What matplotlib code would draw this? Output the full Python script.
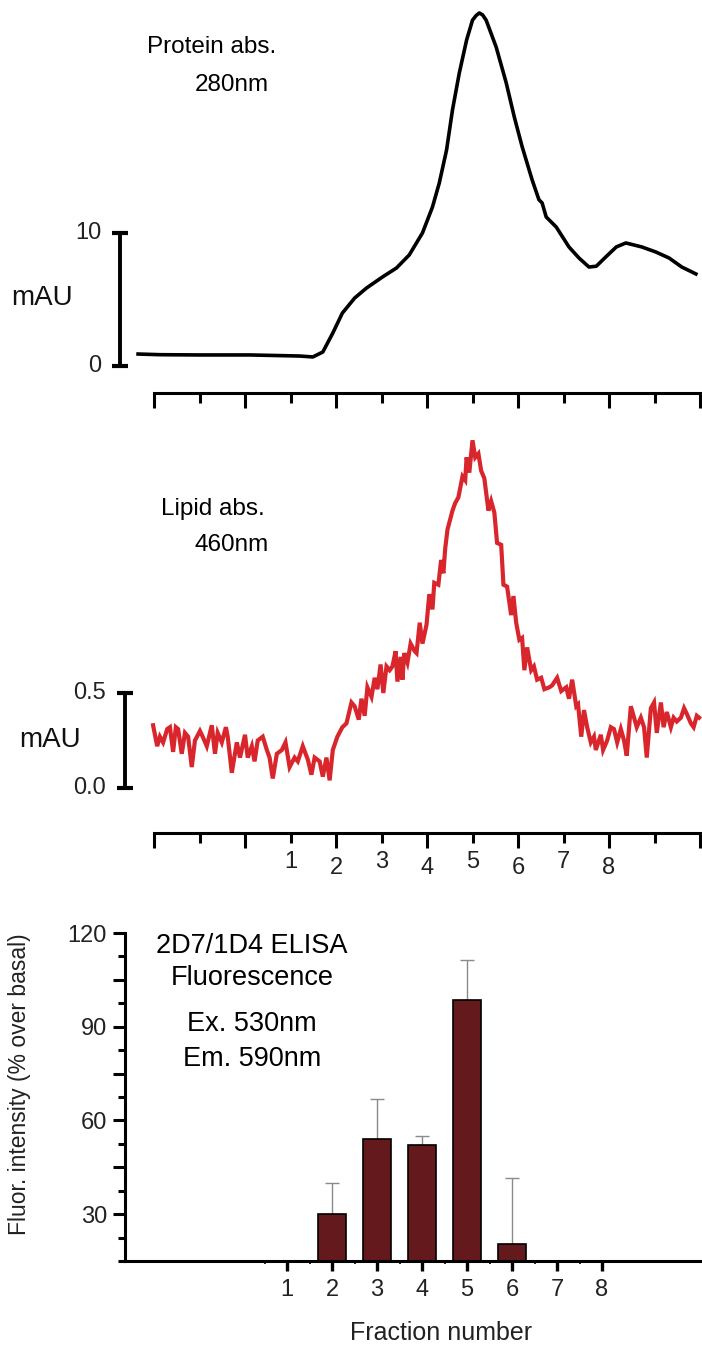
import matplotlib
matplotlib.use("Agg")
import matplotlib.pyplot as plt
from matplotlib.ticker import FixedLocator, NullFormatter

plt.rcParams['font.family'] = ['Liberation Sans', 'DejaVu Sans']

# ---------------- data ----------------
# Protein absorbance 280 nm (mAU) vs fraction position
prot_x = [-2.35, -1.87, -0.99, 0.11, 1.20, 1.49, 1.71, 1.93, 2.14, 2.41, 2.67, 3.02,
          3.33, 3.61, 3.90, 4.12, 4.27, 4.43, 4.56, 4.71, 4.87, 5.00, 5.08, 5.15,
          5.22, 5.30, 5.52, 5.74, 5.92, 6.09, 6.31, 6.46, 6.53, 6.62, 6.84, 7.12,
          7.34, 7.56, 7.72, 7.93, 8.16, 8.37, 8.72, 9.03, 9.32, 9.60, 9.91]
prot_y = [0.90, 0.85, 0.83, 0.83, 0.75, 0.68, 1.05, 2.48, 3.98, 5.11, 5.86, 6.69,
          7.37, 8.35, 10.0, 11.95, 13.76, 16.24, 19.25, 22.03, 24.5, 26.0, 26.35, 26.54,
          26.4, 26.0, 23.98, 21.3, 18.7, 16.5, 14.0, 12.5, 12.26, 11.2, 10.45, 8.95,
          8.12, 7.44, 7.5, 8.2, 8.95, 9.25, 8.95, 8.57, 8.12, 7.44, 6.92]

# Lipid absorbance 460 nm (mAU)
lip_x = [-2.02, -1.93, -1.87, -1.80, -1.71, -1.65, -1.58, -1.52, -1.47, -1.39, -1.32,
         -1.25, -1.17, -1.10, -0.99, -0.93, -0.84, -0.73, -0.66, -0.60, -0.51, -0.42,
         -0.38, -0.29, -0.18, -0.11, 0.00, 0.06, 0.15, 0.21, 0.28, 0.39, 0.48, 0.54,
         0.61, 0.70, 0.81, 0.89, 0.98, 1.09, 1.16, 1.27, 1.38, 1.46, 1.53, 1.64, 1.71,
         1.79, 1.86, 1.93, 2.03, 2.14, 2.23, 2.34, 2.41, 2.50, 2.56, 2.63, 2.69, 2.78,
         2.85, 2.91, 2.98, 3.04, 3.11, 3.18, 3.24, 3.31, 3.35, 3.42, 3.46, 3.50, 3.57,
         3.64, 3.73, 3.77, 3.84, 3.90, 3.99, 4.05, 4.12, 4.16, 4.25, 4.31, 4.36, 4.40,
         4.45, 4.56, 4.62, 4.69, 4.78, 4.84, 4.87, 4.93, 5.00, 5.06, 5.13, 5.19, 5.26,
         5.35, 5.41, 5.48, 5.54, 5.63, 5.68, 5.76, 5.85, 5.90, 5.96, 6.03, 6.09, 6.14,
         6.20, 6.29, 6.35, 6.42, 6.51, 6.58, 6.69, 6.75, 6.86, 6.95, 7.06, 7.12, 7.19,
         7.28, 7.32, 7.39, 7.45, 7.52, 7.60, 7.67, 7.71, 7.82, 7.87, 7.96, 8.04, 8.11,
         8.18, 8.26, 8.33, 8.39, 8.48, 8.55, 8.61, 8.70, 8.77, 8.83, 8.92, 8.99, 9.05,
         9.14, 9.20, 9.27, 9.36, 9.42, 9.49, 9.58, 9.65, 9.71, 9.80, 9.86, 9.93, 9.98]
lip_y = [0.33, 0.22, 0.27, 0.24, 0.31, 0.32, 0.19, 0.32, 0.31, 0.18, 0.29,
         0.27, 0.11, 0.25, 0.30, 0.27, 0.22, 0.33, 0.18, 0.29, 0.24, 0.32,
         0.27, 0.08, 0.24, 0.16, 0.28, 0.16, 0.22, 0.14, 0.25, 0.27, 0.20, 0.16,
         0.05, 0.18, 0.20, 0.24, 0.11, 0.16, 0.14, 0.22, 0.15, 0.07, 0.16, 0.14, 0.06,
         0.16, 0.04, 0.20, 0.27, 0.32, 0.34, 0.45, 0.43, 0.36, 0.47, 0.38, 0.53, 0.48,
         0.58, 0.52, 0.65, 0.50, 0.64, 0.62, 0.64, 0.72, 0.56, 0.69, 0.57, 0.71, 0.66,
         0.76, 0.72, 0.71, 0.87, 0.76, 0.86, 1.02, 0.94, 1.08, 1.07, 1.20, 1.13, 1.26,
         1.36, 1.46, 1.50, 1.53, 1.64, 1.62, 1.74, 1.66, 1.83, 1.74, 1.76, 1.67, 1.63,
         1.46, 1.51, 1.45, 1.29, 1.28, 1.07, 1.06, 0.91, 1.01, 0.87, 0.78, 0.79, 0.62,
         0.74, 0.62, 0.64, 0.57, 0.58, 0.52, 0.53, 0.54, 0.58, 0.51, 0.53, 0.47, 0.57,
         0.43, 0.44, 0.27, 0.41, 0.32, 0.24, 0.27, 0.20, 0.28, 0.20, 0.25, 0.32, 0.31,
         0.24, 0.31, 0.25, 0.17, 0.43, 0.37, 0.32, 0.37, 0.32, 0.16, 0.42, 0.45, 0.29,
         0.45, 0.32, 0.40, 0.32, 0.37, 0.35, 0.37, 0.42, 0.39, 0.34, 0.32, 0.38, 0.37]

# ELISA fluorescence (% over basal)
elisa_fraction = [2, 3, 4, 5, 6]
elisa_value = [30, 54, 52, 98.5, 20.5]
elisa_err = [10, 13, 3, 13, 21]

fraction_labels = ['1', '2', '3', '4', '5', '6', '7', '8']
fraction_ticks = [1, 2, 3, 4, 5, 6, 7, 8]

# ---------------- figure ----------------
W, H = 702, 1350
fig = plt.figure(figsize=(W / 100, H / 100), dpi=100)

def fa(left, top, right, bottom):
    return [left / W, 1 - bottom / H, (right - left) / W, (bottom - top) / H]

NUM = 17
MAU = 20
LBL = 17.5
TXT = 19.5
GREY = '#222222'

def chrom_axis(ax, labels):
    for s in ['top', 'right', 'left']:
        ax.spines[s].set_visible(False)
    ax.spines['bottom'].set_linewidth(2.2)
    ax.set_xlim(-2, 10)
    ax.xaxis.set_major_locator(FixedLocator([-2, 0, 2, 4, 6, 8, 10]))
    ax.xaxis.set_minor_locator(FixedLocator([-1, 1, 3, 5, 7, 9]))
    ax.tick_params(axis='x', which='major', length=11, width=2.2, direction='out')
    ax.tick_params(axis='x', which='minor', length=7, width=2.2, direction='out')
    ax.set_yticks([])
    if labels:
        ax.set_xticks([-2, 0, 2, 4, 6, 8, 10], ['', '', '2', '4', '6', '8', ''])
        ax.set_xticks([-1, 1, 3, 5, 7, 9], ['', '1', '3', '5', '7', ''], minor=True)
        ax.tick_params(axis='x', which='both', labelsize=NUM, pad=6, labelcolor=GREY)
    else:
        ax.xaxis.set_major_formatter(NullFormatter())
        ax.xaxis.set_minor_formatter(NullFormatter())

def scale_bar(ax, x, y0, y1, lab0, lab1, xlab, xm, ym):
    ax.plot([x, x], [y0, y1], color='k', lw=2.8, clip_on=False, solid_capstyle='butt')
    ax.plot([x, x], [y0, y1], ls='none', marker='_', ms=11, mew=3, color='k',
            clip_on=False)
    ax.text(xlab, y1, lab1, ha='right', va='center', fontsize=NUM, color=GREY)
    ax.text(xlab, y0, lab0, ha='right', va='center', fontsize=NUM, color=GREY)
    ax.text(xm, ym, 'mAU', ha='center', va='center', fontsize=MAU, color='#111111')

# ----- top panel: protein -----
ax1 = fig.add_axes(fa(154, 5, 700, 393))
ax1.set_ylim(-2.03, 27.14)
chrom_axis(ax1, False)
ax1.plot(prot_x, prot_y, color='k', lw=2.6, clip_on=False, solid_joinstyle='round')
scale_bar(ax1, -2.75, 0, 10, '0', '10', -3.15, -4.46, 5.1)
ax1.text(-0.73, 24.0, 'Protein abs.', ha='center', va='center', fontsize=LBL)
ax1.text(-0.29, 21.1, '280nm', ha='center', va='center', fontsize=LBL)

# ----- middle panel: lipid -----
ax2 = fig.add_axes(fa(154, 420, 700, 833))
ax2.set_ylim(-0.237, 1.937)
chrom_axis(ax2, True)
ax2.plot(lip_x, lip_y, color='#d9262c', lw=3.0, clip_on=False, solid_joinstyle='miter')
scale_bar(ax2, -2.64, 0, 0.5, '0.0', '0.5', -3.05, -4.28, 0.25)
ax2.text(-0.71, 1.47, 'Lipid abs.', ha='center', va='center', fontsize=LBL)
ax2.text(-0.29, 1.28, '460nm', ha='center', va='center', fontsize=LBL)

# ----- bottom panel: ELISA -----
ax3 = fig.add_axes(fa(125, 933, 701, 1261))
ax3.bar(elisa_fraction, elisa_value, width=0.62, color='#641a1c', edgecolor='k',
        linewidth=1.2, zorder=2)
ax3.errorbar(elisa_fraction, elisa_value, yerr=[[0] * len(elisa_err), elisa_err],
             fmt='none', ecolor='#8a8a8a', elinewidth=1.0, capsize=5, capthick=1.0,
             zorder=1)
ax3.set_xlim(-2.6, 10.2)
ax3.set_ylim(15, 120)
for s in ['top', 'right']:
    ax3.spines[s].set_visible(False)
for s in ['left', 'bottom']:
    ax3.spines[s].set_linewidth(2.2)
ax3.set_xticks(fraction_ticks, fraction_labels)
ax3.xaxis.set_minor_locator(FixedLocator([0.5, 1.5, 2.5, 3.5, 4.5, 5.5, 6.5, 7.5]))
ax3.tick_params(axis='x', which='major', length=7, width=2.4, labelsize=NUM,
                pad=6, labelcolor=GREY)
ax3.tick_params(axis='x', which='minor', length=2.5, width=1.2)
ax3.set_yticks([30, 45, 60, 75, 90, 105, 120], ['30', '', '60', '', '90', '', '120'])
ax3.yaxis.set_minor_locator(FixedLocator([15, 22.5, 37.5, 52.5, 67.5, 82.5, 97.5, 112.5]))
ax3.tick_params(axis='y', which='major', length=9, width=2.2, labelsize=NUM,
                pad=4, labelcolor=GREY)
ax3.tick_params(axis='y', which='minor', length=5, width=2.2)
ax3.set_ylabel('Fluor. intensity (% over basal)', fontsize=16.5, color=GREY)
ax3.yaxis.set_label_coords(-0.163, 0.54)
ax3.set_xlabel('Fraction number', fontsize=18, color=GREY)
ax3.xaxis.set_label_coords(0.549, -0.183)

tx = 0.22
ax3.text(tx, 115.8, '2D7/1D4 ELISA', ha='center', va='center', fontsize=TXT)
ax3.text(tx, 105.5, 'Fluorescence', ha='center', va='center', fontsize=TXT)
ax3.text(tx, 90.75, 'Ex. 530nm', ha='center', va='center', fontsize=TXT)
ax3.text(tx, 79.8, 'Em. 590nm', ha='center', va='center', fontsize=TXT)

fig.savefig('out.png', dpi=100)
